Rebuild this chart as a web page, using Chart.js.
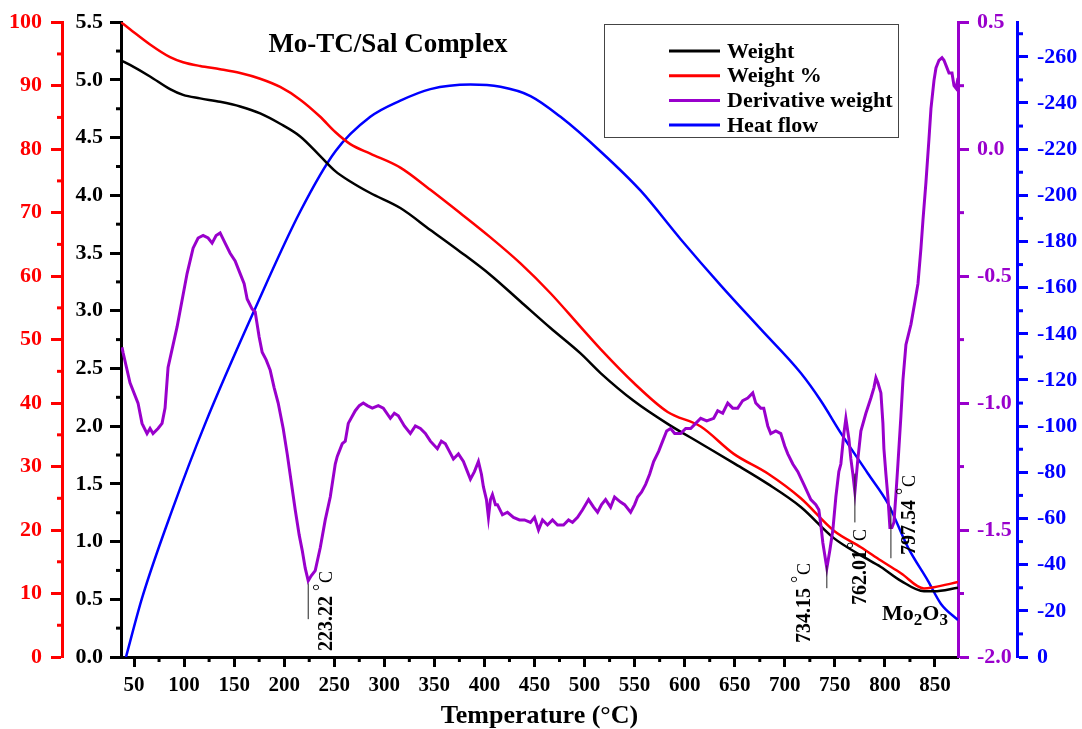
<!DOCTYPE html>
<html>
<head>
<meta charset="utf-8">
<script src="https://cdn.jsdelivr.net/npm/chart.js@4.4.1/dist/chart.umd.min.js"></script>
<style>
  body { margin: 0; background: #fff; }
  #wrap { width: 1082px; height: 729px; }
</style>
</head>
<body>
<div id="wrap"><canvas id="tga" width="1082" height="729"></canvas></div>
<script>
var SERIF = "'Liberation Serif', 'Times New Roman', serif";
var PURPLE = '#9900cc';

// TGA: weight (mg) and weight % against temperature
var tempW = [37, 46, 66, 86, 99, 116, 136, 156, 176, 196, 216, 236, 251, 266, 286, 316, 346, 376, 406, 436,
  466, 496, 516, 549, 583, 616, 649, 683, 716, 749, 776, 796, 816, 839, 849, 873];
var weight = [5.17, 5.13, 5.03, 4.92, 4.87, 4.84, 4.81, 4.77, 4.71, 4.62, 4.51, 4.34, 4.21, 4.12, 4.02, 3.89,
  3.70, 3.51, 3.31, 3.08, 2.85, 2.63, 2.46, 2.22, 2.02, 1.85, 1.68, 1.50, 1.30, 1.03, 0.88, 0.78, 0.66, 0.57, 0.57, 0.60];
var weightPct = [100, 98.9, 96.5, 94.5, 93.7, 93.1, 92.6, 92.0, 91.1, 89.8, 87.8, 85.1, 82.7, 80.8, 79.3, 77.1,
  73.6, 69.9, 66.1, 62.0, 57.3, 52.0, 48.5, 43.2, 38.6, 36.3, 32.0, 28.9, 25.0, 19.9, 17.3, 15.2, 13.2, 10.8, 11.0, 11.8];

// DTG: derivative weight
var tempDeriv = [38, 39, 46, 54, 58, 63, 66, 69, 74, 78, 81, 84, 93, 103, 109, 114, 119, 124, 128, 132, 136, 141,
  146, 151, 156, 160, 163, 168, 171, 175, 178, 182, 186, 190, 194, 199, 203, 207, 211, 215, 218, 221, 224, 227,
  231, 236, 241, 246, 251, 253, 258, 261, 264, 271, 275, 279, 283, 288, 294, 299, 306, 310, 314, 320, 326, 331,
  336, 341, 346, 353, 357, 361, 365, 369, 374, 379, 383, 386, 390, 394, 397, 399, 402, 404, 406, 408, 411, 413,
  418, 423, 429, 435, 440, 446, 450, 454, 458, 463, 468, 473, 479, 484, 488, 493, 498, 504, 509, 513, 517, 521,
  526, 530, 533, 536, 540, 546, 550, 553, 557, 561, 565, 569, 574, 578, 582, 586, 590, 596, 601, 606, 611, 616,
  622, 629, 633, 638, 643, 648, 653, 658, 663, 668, 671, 676, 679, 683, 686, 691, 696, 700, 703, 708, 713, 719,
  726, 731, 734, 736, 738, 740, 742, 745, 748, 751, 754, 756, 759, 761, 764, 766, 768, 770, 773, 776, 781, 786,
  789, 791, 793, 796, 798, 799, 801, 803, 805, 807, 809, 811, 813, 816, 818, 821, 826, 830, 833, 836, 838, 841,
  844, 846, 849, 851, 854, 857, 859, 862, 864, 867, 869, 871, 873];
var derivWeight = [-0.78, -0.80, -0.92, -1.00, -1.08, -1.12, -1.10, -1.12, -1.10, -1.08, -1.02, -0.86, -0.70,
  -0.49, -0.39, -0.35, -0.34, -0.35, -0.37, -0.34, -0.33, -0.37, -0.41, -0.44, -0.49, -0.53, -0.59, -0.63, -0.64,
  -0.74, -0.80, -0.83, -0.87, -0.94, -1.00, -1.10, -1.20, -1.31, -1.42, -1.52, -1.58, -1.65, -1.70, -1.68, -1.66,
  -1.57, -1.46, -1.37, -1.24, -1.21, -1.16, -1.15, -1.08, -1.03, -1.01, -1.00, -1.01, -1.02, -1.01, -1.02, -1.06,
  -1.04, -1.05, -1.09, -1.12, -1.09, -1.10, -1.12, -1.15, -1.18, -1.15, -1.16, -1.19, -1.22, -1.20, -1.23, -1.27,
  -1.30, -1.27, -1.23, -1.28, -1.33, -1.38, -1.45, -1.38, -1.36, -1.40, -1.40, -1.44, -1.43, -1.45, -1.46, -1.46,
  -1.47, -1.45, -1.50, -1.46, -1.48, -1.46, -1.48, -1.48, -1.46, -1.47, -1.45, -1.42, -1.38, -1.41, -1.43, -1.40,
  -1.38, -1.41, -1.37, -1.38, -1.39, -1.40, -1.43, -1.40, -1.37, -1.35, -1.32, -1.28, -1.23, -1.19, -1.15, -1.11,
  -1.10, -1.12, -1.12, -1.10, -1.10, -1.08, -1.06, -1.07, -1.06, -1.03, -1.04, -1.00, -1.02, -1.02, -0.99, -0.98,
  -0.96, -1.00, -1.02, -1.02, -1.09, -1.12, -1.11, -1.12, -1.17, -1.20, -1.24, -1.27, -1.32, -1.38, -1.40, -1.42,
  -1.48, -1.55, -1.60, -1.65, -1.58, -1.50, -1.37, -1.27, -1.24, -1.12, -1.06, -1.14, -1.22, -1.28, -1.35, -1.22,
  -1.11, -1.04, -0.98, -0.94, -0.90, -0.92, -0.96, -1.08, -1.18, -1.28, -1.37, -1.49, -1.49, -1.47, -1.36, -1.24,
  -1.05, -0.91, -0.77, -0.69, -0.60, -0.53, -0.39, -0.28, -0.13, 0.04, 0.16, 0.27, 0.32, 0.35, 0.36, 0.35, 0.32,
  0.30, 0.30, 0.25, 0.24, 0.28];

// DSC: heat flow
var tempHeat = [42, 58, 88, 121, 171, 216, 251, 286, 316, 346, 386, 416, 446, 476, 516, 556, 596, 636, 676, 716,
  736, 756, 783, 803, 823, 843, 856, 873];
var heatFlow = [0, -25.5, -63.5, -101, -151, -193, -219, -234, -241, -246, -248, -247, -243, -234, -219, -202,
  -181, -161, -142, -123, -111, -97, -79.5, -66.5, -47.5, -33, -23, -16];

var seriesNames = ['Weight', 'Weight %', 'Derivative weight', 'Heat flow'];
var peakTemps = [224, 742, 770, 806];
var peakLabels = ['223.22', '734.15', '762.01', '797.54'];

function pts(xs, ys) {
  return xs.map(function(x, i) { return {x: x, y: ys[i]}; });
}

function tickFont(size) {
  return {family: SERIF, size: size, weight: 'bold'};
}

// minor ticks, drawn from the scales
var minorTicks = {
  x: {step: 25, len: 5},
  yPct: {step: 5, len: 5},
  yW: {step: 0.25, len: 5},
  yD: {step: 0.25, len: 6},
  yH: {step: 10, len: 6}
};

var decor = {
  id: 'decor',
  afterDraw: function(chart) {
    var ctx = chart.ctx;
    var sc = chart.scales;
    ctx.save();

    // minor ticks
    Object.keys(minorTicks).forEach(function(id) {
      var s = sc[id], m = minorTicks[id];
      var col = s.options.border.color;
      ctx.strokeStyle = col;
      ctx.lineWidth = 3;
      var lo = Math.min(s.min, s.max), hi = Math.max(s.min, s.max);
      var v = Math.ceil(lo / m.step) * m.step;
      for (; v <= hi + 1e-9; v += m.step) {
        var r = Math.round(v / m.step);
        if (r % 2 === 0) continue;
        var p = s.getPixelForValue(v);
        ctx.beginPath();
        if (id === 'x') {
          ctx.moveTo(p, s.top); ctx.lineTo(p, s.top + m.len);
        } else if (s.position === 'left') {
          ctx.moveTo(s.right - m.len, p); ctx.lineTo(s.right, p);
        } else {
          ctx.moveTo(s.left, p); ctx.lineTo(s.left + m.len, p);
        }
        ctx.stroke();
      }
    });

    // title inside the plot
    ctx.fillStyle = '#000';
    ctx.font = 'bold 27px ' + SERIF;
    ctx.textAlign = 'center';
    ctx.textBaseline = 'middle';
    ctx.fillText('Mo-TC/Sal Complex', 388, 45);

    // legend box
    var colors = ['#000', '#ff0000', PURPLE, '#0000ff'];
    ctx.strokeStyle = '#444';
    ctx.lineWidth = 1;
    ctx.strokeRect(604.5, 24.5, 294, 113);
    ctx.font = 'bold 22px ' + SERIF;
    ctx.textAlign = 'left';
    seriesNames.forEach(function(n, i) {
      var y = 51 + i * 24.7;
      ctx.strokeStyle = colors[i];
      ctx.lineWidth = 3;
      ctx.beginPath(); ctx.moveTo(669, y); ctx.lineTo(720, y); ctx.stroke();
      ctx.fillStyle = '#000';
      ctx.fillText(n, 727, y + 1);
    });

    // peak markers on the derivative curve
    var marks = [
      {from: -1.710, to: -1.851, dx: 19, base: 651, space: true},
      {from: -1.639, to: -1.729, dx: -22, base: 643, space: true},
      {from: -1.278, to: -1.470, dx: 6, base: 605, space: false},
      {from: -1.411, to: -1.611, dx: 19, base: 555, space: true}
    ];
    marks.forEach(function(m, i) {
      var px = sc.x.getPixelForValue(peakTemps[i]);
      ctx.strokeStyle = '#222';
      ctx.lineWidth = 1;
      ctx.beginPath();
      ctx.moveTo(px, sc.yD.getPixelForValue(m.from));
      ctx.lineTo(px, sc.yD.getPixelForValue(m.to));
      ctx.stroke();
      ctx.save();
      ctx.translate(px + m.dx, m.base);
      ctx.rotate(-Math.PI / 2);
      ctx.fillStyle = '#000';
      ctx.textAlign = 'left';
      ctx.textBaseline = 'middle';
      ctx.font = 'bold 20px ' + SERIF;
      ctx.fillText(peakLabels[i], 0, 0);
      var w = ctx.measureText(peakLabels[i]).width + (m.space ? 5 : 1);
      ctx.font = '18px ' + SERIF;
      ctx.fillText('°', w, -6);
      ctx.fillText('C', w + 8, 0);
      ctx.restore();
    });

    // residue label
    ctx.fillStyle = '#000';
    ctx.textBaseline = 'alphabetic';
    ctx.textAlign = 'left';
    var x = 882;
    [['Mo', 22, 0], ['2', 17, 5], ['O', 22, 0], ['3', 17, 5]].forEach(function(p) {
      ctx.font = 'bold ' + p[1] + 'px ' + SERIF;
      ctx.fillText(p[0], x, 620 + p[2]);
      x += ctx.measureText(p[0]).width;
    });

    ctx.restore();
  }
};

function yAxis(pos, weightVal, color, min, max, step, digits, width, pad) {
  return {
    type: 'linear',
    position: pos,
    weight: weightVal,
    min: min,
    max: max,
    border: {display: true, color: color, width: 3},
    grid: {drawOnChartArea: false, drawTicks: true, tickLength: 11, tickWidth: 3, tickColor: color},
    ticks: {
      stepSize: step,
      includeBounds: false,
      color: color,
      font: tickFont(22),
      padding: pad,
      callback: function(v) { return digits ? Number(v).toFixed(digits) : String(v); }
    },
    afterFit: function(s) { s.width = width; }
  };
}

var scaleH = yAxis('right', 2, '#0000ff', -275, 0, 20, 0, 65, 9);
scaleH.reverse = true;

new Chart(document.getElementById('tga'), {
  type: 'line',
  data: {
    datasets: [
      {label: seriesNames[0], data: pts(tempW, weight), yAxisID: 'yW', borderColor: '#000', borderWidth: 2.5,
        cubicInterpolationMode: 'monotone', order: 1},
      {label: seriesNames[1], data: pts(tempW, weightPct), yAxisID: 'yPct', borderColor: '#ff0000', borderWidth: 2.5,
        cubicInterpolationMode: 'monotone', order: 2},
      {label: seriesNames[2], data: pts(tempDeriv, derivWeight), yAxisID: 'yD', borderColor: PURPLE, borderWidth: 3,
        order: 0},
      {label: seriesNames[3], data: pts(tempHeat, heatFlow), yAxisID: 'yH', borderColor: '#0000ff', borderWidth: 2.5,
        cubicInterpolationMode: 'monotone', order: 3}
    ]
  },
  options: {
    responsive: false,
    animation: false,
    devicePixelRatio: 1,
    layout: {padding: {top: 20, left: 0, right: 0, bottom: 0}},
    elements: {point: {radius: 0}, line: {fill: false}},
    plugins: {legend: {display: false}, tooltip: {enabled: false}},
    scales: {
      x: {
        type: 'linear',
        position: 'bottom',
        min: 37,
        max: 873,
        border: {display: true, color: '#000', width: 3},
        grid: {drawOnChartArea: false, tickLength: 10, tickWidth: 3, tickColor: '#000'},
        ticks: {stepSize: 50, includeBounds: false, color: '#000', font: tickFont(21), padding: 6,
          maxRotation: 0, autoSkip: false},
        title: {display: true, text: 'Temperature (°C)', color: '#000',
          font: {family: SERIF, size: 26, weight: 'bold', lineHeight: 0.95}, padding: 0},
        afterFit: function(s) { s.height = 72; }
      },
      yPct: yAxis('left', 2, '#ff0000', 0, 100, 10, 0, 62, 9),
      yW: yAxis('left', 1, '#000', 0, 5.5, 0.5, 1, 59, 7),
      yD: yAxis('right', 1, PURPLE, -2, 0.5, 0.5, 1, 59, 8),
      yH: scaleH
    }
  },
  plugins: [decor]
});
</script>
</body>
</html>
